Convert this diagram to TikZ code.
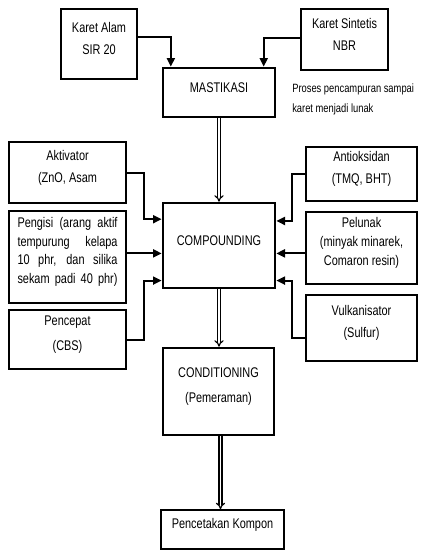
\documentclass[tikz,border=0pt]{standalone}
\usepackage{fontspec}
\setmainfont{Liberation Sans}[FakeStretch=0.78]
\usetikzlibrary{arrows.meta}
\usetikzlibrary{calc}
\usetikzlibrary{fit}

\newcommand\jline[1]{\makebox[75pt][s]{#1}}

\begin{document}
\begin{tikzpicture}[x=0.75pt, y=-0.75pt,
    box/.style={draw, line width=2pt, inner sep=0pt, align=center, font=\fontsize{10.5}{14}\selectfont},
    feed/.style={line width=1.5pt, -{Triangle[length=6.5pt, width=6pt]}},
    flow/.style={double, line width=0.9pt, double distance=1.4pt, -{Implies}}]
    \useasboundingbox (0, 0) rectangle (428, 550);
    % top row
    \node[box, fit={(61, 9) (137, 79)}] (alam) {Karet Alam\\[2.5pt]SIR 20};
    \node[box, fit={(301, 9) (388, 70)}] (sint) {Karet Sintetis\\[2.5pt]NBR};
    \node[box, fit={(163, 68) (275, 117)}] (mast) {MASTIKASI};
    \node[anchor=west, inner sep=0pt, align=left, font=\fontsize{9}{15}\selectfont] (note) at (292, 99)
        {Proses pencampuran sampai\\karet menjadi lunak};
    % left column
    \node[box, fit={(9, 142) (126, 203)}] (akt) {Aktivator\\[2.5pt](ZnO, Asam};
    \node[box, fit={(9, 211) (126, 303)}] (isi) {\jline{Pengisi (arang aktif}\\\jline{tempurung kelapa}\\
        \jline{10 phr, dan silika}\\\jline{sekam padi 40 phr)}};
    \node[box, fit={(9, 310) (126, 369)}] (cepat) {Pencepat\\[4.5pt](CBS)};
    % right column
    \node[box, fit={(306, 147) (417, 201)}] (anti) {Antioksidan\\[2.5pt](TMQ, BHT)};
    \node[box, fit={(306, 212) (417, 284)}] (lunak) {Pelunak\\(minyak minarek,\\Comaron resin)};
    \node[box, fit={(306, 295) (417, 361)}] (vulk) {Vulkanisator\\[2.5pt](Sulfur)};
    % main line
    \node[box, fit={(163, 203) (275, 288)}] (comp) {COMPOUNDING};
    \node[box, fit={(163, 348) (274, 435)}] (cond) {CONDITIONING\\[4.5pt](Pemeraman)};
    \node[box, line width=1.3pt, fit={(161, 510) (284, 549)}] (cetak) {Pencetakan Kompon};

    \draw[feed] ($(alam.north east)!0.41!(alam.south east)$) -| ($(mast.north west)!0.08!(mast.north east)$);
    \draw[feed] ($(sint.north west)!0.47!(sint.south west)$) -| ($(mast.north west)!0.89!(mast.north east)$);

    \coordinate (cin) at ($(comp.north west)!0.59!(comp.south west)$);
    \coordinate (cout) at ($(comp.north east)!0.59!(comp.south east)$);
    \draw[feed] (akt.east) -- ++(17, 0) |- ($(comp.north west)!0.2!(comp.south west)$);
    \draw[feed] (isi.east |- cin) -- (cin);
    \draw[feed] (cepat.east) -- ++(17, 0) |- ($(comp.north west)!0.9!(comp.south west)$);
    \draw[feed] (anti.west) -- ++(-13, 0) |- ($(comp.north east)!0.22!(comp.south east)$);
    \draw[feed] (lunak.west |- cout) -- (cout);
    \draw[feed] ($(vulk.north west)!0.65!(vulk.south west)$) -- ++(-13, 0) |- ($(comp.north east)!0.9!(comp.south east)$);

    \draw[flow] (mast.south) -- (mast.south |- comp.north);
    \draw[flow] (comp.south) -- (comp.south |- cond.north);
    \draw[flow] ([xshift=1.5pt]cond.south) -- ([xshift=1.5pt]cond.south |- cetak.north);
\end{tikzpicture}
\end{document}
